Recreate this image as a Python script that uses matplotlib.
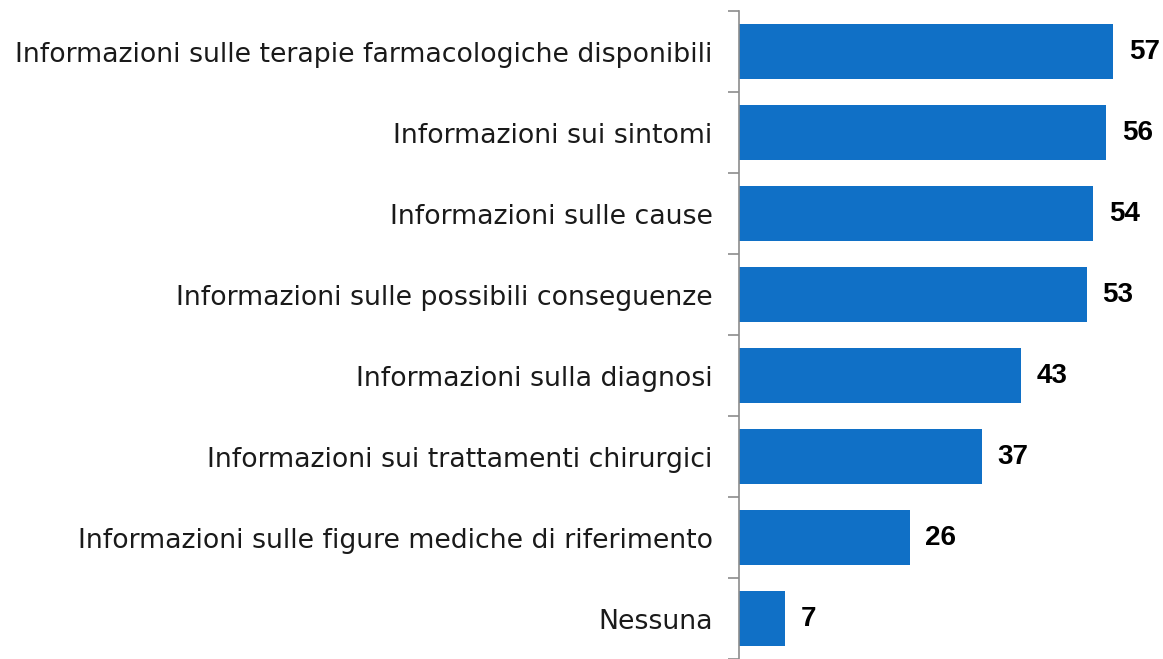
import matplotlib.pyplot as plt
import numpy as np

# dati del grafico
categorie = [
    "Informazioni sulle terapie farmacologiche disponibili",
    "Informazioni sui sintomi",
    "Informazioni sulle cause",
    "Informazioni sulle possibili conseguenze",
    "Informazioni sulla diagnosi",
    "Informazioni sui trattamenti chirurgici",
    "Informazioni sulle figure mediche di riferimento",
    "Nessuna",
]
valori = [57, 56, 54, 53, 43, 37, 26, 7]

COLORE_BARRE = "#1070C6"
COLORE_ASSE = "#8C8C8C"

fig = plt.figure(figsize=(11.63, 6.59), dpi=100)
ax = fig.add_axes([0.6354, 0.0, 0.3384, 0.9833])

n = len(categorie)
pos = np.arange(n)
ax.barh(pos, valori, height=0.67, color=COLORE_BARRE)
ax.set_ylim(n - 0.5, -0.5)
ax.set_xlim(0, 60)

# etichette dei valori, in grassetto
for p, v in zip(pos, valori):
    ax.annotate(str(v), (v, p), xytext=(11.5, 0), textcoords="offset points",
                va="center", ha="left", fontsize=20, fontweight="bold",
                family="Liberation Sans", color="black")

ax.set_yticks(pos)
ax.set_yticklabels(categorie, fontsize=19.3, color="#1a1a1a")
ax.tick_params(axis="y", which="major", length=0, pad=19)
ax.set_yticks(np.arange(n + 1) - 0.5, minor=True)
ax.tick_params(axis="y", which="minor", length=8, width=1.2, color=COLORE_ASSE)
ax.set_xticks([])

for lato in ["top", "right", "bottom"]:
    ax.spines[lato].set_visible(False)
ax.spines["left"].set_color(COLORE_ASSE)
ax.spines["left"].set_linewidth(1.2)

fig.savefig("out.png", dpi=100)
